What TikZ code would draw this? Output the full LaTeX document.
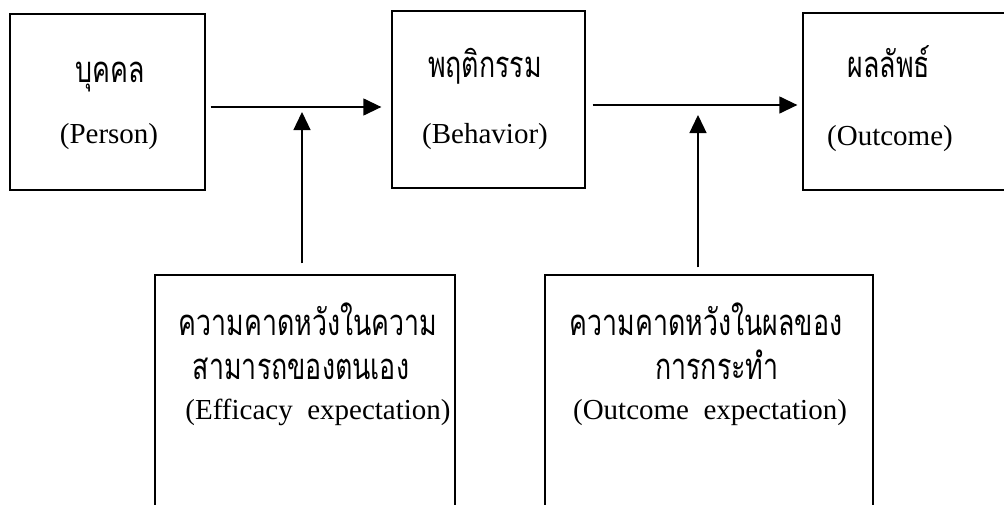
\documentclass[tikz,border=0pt]{standalone}
\usepackage{graphicx}
\usepackage{fontspec}
\setmainfont{Liberation Serif}
\newfontfamily\thai[Script=Thai]{Loma}
\newcommand{\thtext}[1]{\scalebox{1.03}[1.4]{\thai #1}}
\usetikzlibrary{arrows.meta}
\begin{document}
\begin{tikzpicture}[x=1pt,y=-1pt,
  box/.style={draw=black,line width=1.3pt,rectangle,inner sep=0pt},
  arr/.style={draw=black,line width=1.3pt,-{Triangle[length=18pt,width=17pt]}},
  en/.style={font=\fontsize{29}{34}\selectfont,anchor=base,inner sep=0pt},
  th/.style={font=\fontsize{26}{32}\selectfont,anchor=base,inner sep=0pt}]
\clip (0,0) rectangle (1004,504);
\fill[white] (0,0) rectangle (1004,504);
% boxes
\node[box,minimum width=195pt,minimum height=176pt] (person) at (107.5,102) {};
\node[box,minimum width=193pt,minimum height=177pt] (behavior) at (488.5,99.5) {};
\node[box,minimum width=260pt,minimum height=177pt] (outcome) at (933,101.5) {};
\node[box,minimum width=300pt,minimum height=290pt] (eff) at (305,420) {};
\node[box,minimum width=328pt,minimum height=290pt] (oexp) at (709,420) {};
% texts
\node[th] (t1) at (110,82) {\thtext{บุคคล}};
\node[en] (t2) at (109,143) {(Person)};
\node[th] (t3) at (485,77) {\thtext{พฤติกรรม}};
\node[en] (t4) at (485,143) {(Behavior)};
\node[th] (t5) at (889,77) {\thtext{ผลลัพธ์}};
\node[en] (t6) at (890,145) {(Outcome)};
\node[th] (t7) at (308,335) {\thtext{ความคาดหวังในความ}};
\node[th] (t8) at (301,379) {\thtext{สามารถของตนเอง}};
\node[en] (t9) at (318,419) {(Efficacy\ \ expectation)};
\node[th] (t10) at (706,335) {\thtext{ความคาดหวังในผลของ}};
\node[th] (t11) at (717,379) {\thtext{การกระทำ}};
\node[en] (t12) at (710,419) {(Outcome\ \ expectation)};
% junctions
\coordinate (j1) at (302,107);
\coordinate (j2) at (698,105);
% connectors
\draw[arr,shorten <=5pt,shorten >=10pt] (person.east |- j1) -- (behavior.west |- j1);
\draw[arr,shorten <=11pt,shorten >=5pt] (j1 |- eff.north) -- (j1);
\draw[arr,shorten <=7pt,shorten >=5pt] (behavior.east |- j2) -- (outcome.west |- j2);
\draw[arr,shorten <=7pt,shorten >=10pt] (j2 |- oexp.north) -- (j2);
\end{tikzpicture}
\end{document}
